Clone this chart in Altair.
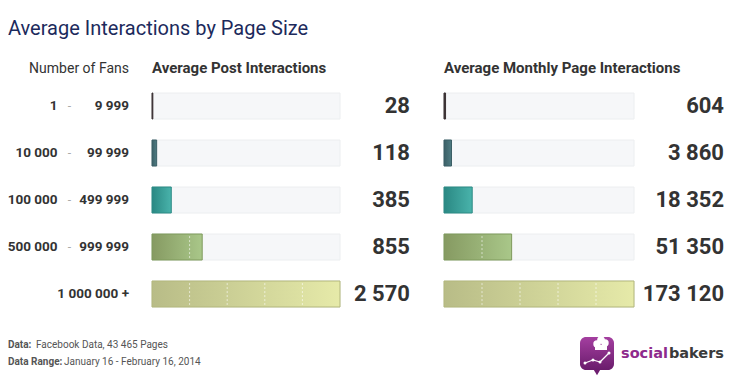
import altair as alt
import pandas as pd

# ---------------- data ----------------
TITLE = "Average Interactions by Page Size"
HEADERS = ["Number of Fans", "Average Post Interactions", "Average Monthly Page Interactions"]
fans_from = ["1", "10 000", "100 000", "500 000", ""]
fans_sep = ["-", "-", "-", "-", ""]
fans_to = ["9 999", "99 999", "499 999", "999 999", "1 000 000 +"]
post_interactions = [28, 118, 385, 855, 2570]
monthly_interactions = [604, 3860, 18352, 51350, 173120]
footer_keys = ["Data:", "Data Range:"]
footer_values = ["Facebook Data, 43 465 Pages", "January 16 - February 16, 2014"]
brand_parts = ["social", "bakers"]

# ---------------- styles ----------------
FILL_FROM = ["#3a3133", "#3b5f66", "#2a8883", "#869a62", "#b8bc87"]
FILL_TO = ["#4a4042", "#4f7c83", "#49b3ab", "#a9c789", "#e6eaa9"]
STROKE = ["#3a3133", "#3b5f66", "#2c8a85", "#7f9a5c", "#b3b77d"]
TEXT = "#333333"
FONT = "Roboto"


def fmt(v):
    return f"{v:,}".replace(",", " ")


rows = list(range(len(fans_to)))
df = pd.DataFrame({
    "row": rows,
    "from": fans_from,
    "sep": fans_sep,
    "to": fans_to,
    "post": post_interactions,
    "month": monthly_interactions,
    "post_lbl": [fmt(v) for v in post_interactions],
    "month_lbl": [fmt(v) for v in monthly_interactions],
    "post_track": [max(post_interactions)] * len(rows),
    "month_track": [max(monthly_interactions)] * len(rows),
})

POST_EXP = 1.2
MONTH_EXP = 0.85
RP = 436  # left edge of the right panel (chart px)
YS = alt.Scale(domain=rows, range=[85, 299], paddingInner=21 / 47, paddingOuter=0)
LX = alt.Scale(type="pow", exponent=POST_EXP, domain=[0, max(post_interactions)],
               range=[144, 332], nice=False)
RX = alt.Scale(type="pow", exponent=MONTH_EXP, domain=[0, max(monthly_interactions)],
               range=[RP, RP + 190], nice=False)


def Y(**kw):
    return alt.Y("row:O", axis=None, scale=YS, **kw)


def dash_frame(values, maxv, e):
    recs = []
    for r, v in enumerate(values):
        for k in range(1, 5):
            t = maxv * (k / 5) ** (1 / e)
            if t < v * 0.97:
                recs.append({"row": r, "tick": t})
    return pd.DataFrame(recs)


def label(text, x, y, align="left", **style):
    return alt.Chart(pd.DataFrame({"t": [text]})).mark_text(
        align=align, baseline="alphabetic", **style
    ).encode(text="t:N", x=alt.value(x), y=alt.value(y))


layers = []

# title, headers
layers.append(label(TITLE, 0, 27, font=FONT, fontSize=20, color="#1c2a5c"))
layers.append(label(HEADERS[0], 121, 65, align="right", font=FONT, fontSize=14, color=TEXT))
layers.append(label(HEADERS[1], 144, 65, font=FONT, fontSize=15, fontWeight="bold", color=TEXT))
layers.append(label(HEADERS[2], RP, 65, font=FONT, fontSize=15, fontWeight="bold", color=TEXT))

# row labels
base = alt.Chart(df)
layers.append(base.mark_text(align="right", baseline="middle", font=FONT, fontSize=13.5,
                             fontWeight="bold", color=TEXT)
              .encode(text="from:N", x=alt.value(49.5), y=Y()))
layers.append(base.mark_text(align="center", baseline="middle", font=FONT, fontSize=12,
                             color="#aaaaaa")
              .encode(text="sep:N", x=alt.value(61.5), y=Y()))
layers.append(base.mark_text(align="right", baseline="middle", font=FONT, fontSize=13.5,
                             fontWeight="bold", color=TEXT)
              .encode(text="to:N", x=alt.value(121), y=Y()))

# tracks
for fld, sc in (("post_track", LX), ("month_track", RX)):
    layers.append(base.mark_bar(color="#f6f7f9", stroke="#eceef0", strokeWidth=1)
                  .encode(x=alt.X(f"{fld}:Q", scale=sc, axis=None), y=Y()))

# bars
for r in rows:
    grad = alt.Gradient(gradient="linear",
                        stops=[alt.GradientStop(offset=0, color=FILL_FROM[r]),
                               alt.GradientStop(offset=1, color=FILL_TO[r])],
                        x1=0, x2=1, y1=0, y2=0)
    for fld, sc in (("post", LX), ("month", RX)):
        layers.append(base.transform_filter(alt.datum.row == r)
                      .mark_bar(fill=grad, stroke=STROKE[r], strokeWidth=1)
                      .encode(x=alt.X(f"{fld}:Q", scale=sc, axis=None), y=Y()))

# dashed dividers inside bars
for vals, sc, e in ((post_interactions, LX, POST_EXP), (monthly_interactions, RX, MONTH_EXP)):
    dd = dash_frame(vals, max(vals), e)
    layers.append(alt.Chart(dd).mark_rule(color="white", strokeDash=[2, 2], strokeWidth=1,
                                          opacity=0.6)
                  .encode(x=alt.X("tick:Q", scale=sc, axis=None),
                          y=Y(bandPosition=0.08),
                          y2=alt.Y2("row:O", bandPosition=0.92)))

# values
layers.append(base.mark_text(align="right", baseline="middle", font=FONT, fontSize=22,
                             fontWeight="bold", color=TEXT)
              .encode(text="post_lbl:N", x=alt.value(402), y=Y()))
layers.append(base.mark_text(align="right", baseline="middle", font=FONT, fontSize=22,
                             fontWeight="bold", color=TEXT)
              .encode(text="month_lbl:N", x=alt.value(716), y=Y()))

# footer
for i, (k, v) in enumerate(zip(footer_keys, footer_values)):
    yb = 340 + i * 16.7
    layers.append(label(k, 0, yb, font=FONT, fontSize=10, fontWeight="bold", color="#555555"))
    layers.append(label(v, 28 if i == 0 else 56, yb, font=FONT, fontSize=10, color="#555555"))

# logo
LG = -7  # logo horizontal shift
one = alt.Chart(pd.DataFrame({"a": [0]}))
icon_grad = alt.Gradient(gradient="linear",
                         stops=[alt.GradientStop(offset=0, color="#a43fa0"),
                                alt.GradientStop(offset=1, color="#6a1c6c")],
                         x1=0, x2=0, y1=0, y2=1)
layers.append(one.mark_point(shape="triangle-down", filled=True, color="#6e1e70", size=60, opacity=1)
              .encode(x=alt.value(596 + LG), y=alt.value(364)))
layers.append(one.mark_rect(fill=icon_grad, cornerRadius=6)
              .encode(x=alt.value(579 + LG), x2=alt.value(613 + LG), y=alt.value(329), y2=alt.value(362)))
for cx, cy, s in ((596, 336, 55), (604, 335, 55), (600, 332, 60)):
    layers.append(one.mark_circle(color="white", size=s, opacity=1)
                  .encode(x=alt.value(cx + LG), y=alt.value(cy)))
layers.append(one.mark_rect(color="white")
              .encode(x=alt.value(594 + LG), x2=alt.value(606 + LG), y=alt.value(337), y2=alt.value(342)))
pts = [(584, 355), (592, 352), (599, 354), (608, 345)]
for (x1, y1), (x2, y2) in zip(pts[:-1], pts[1:]):
    layers.append(one.mark_rule(color="white", strokeWidth=1.2)
                  .encode(x=alt.value(x1 + LG), x2=alt.value(x2 + LG), y=alt.value(y1), y2=alt.value(y2)))
for px, py in pts:
    layers.append(one.mark_circle(color="white", size=9, opacity=1)
                  .encode(x=alt.value(px + LG), y=alt.value(py)))
layers.append(label(brand_parts[0], 620 + LG, 350.3, font="DejaVu Sans", fontSize=14.5,
                    fontWeight="bold", color="#8e2a8c"))
layers.append(label(brand_parts[1], 716, 350.3, align="right", font="DejaVu Sans", fontSize=14.5,
                    fontWeight="bold", color="#3a3a3a"))

chart = (
    alt.layer(*layers)
    .resolve_scale(x="independent")
    .properties(width=717, height=373, autosize=alt.AutoSizeParams(type="none"), padding=0)
    .configure_view(stroke=None)
)

chart.save("out.html", embed_options={"renderer": "svg", "actions": False})
